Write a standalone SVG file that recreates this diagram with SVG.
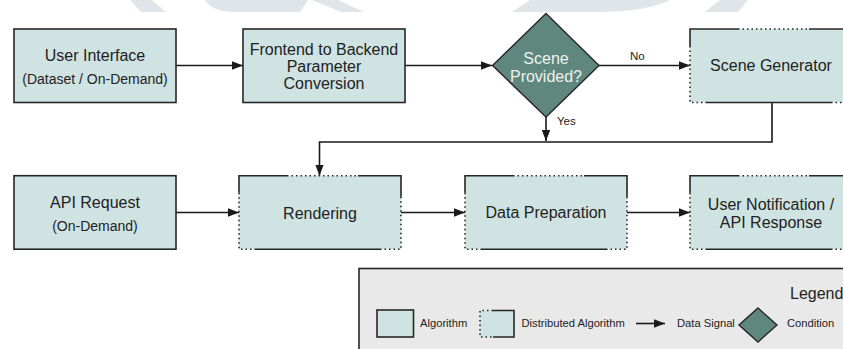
<svg xmlns="http://www.w3.org/2000/svg" xmlns:xlink="http://www.w3.org/1999/xlink" width="843" height="349" viewBox="0 0 843 349">
  <style>
    .box{fill:#cfe3e2;stroke:#262626;stroke-width:1.6}
    .fill{fill:#cfe3e2;stroke:none}
    .solid{fill:none;stroke:#262626;stroke-width:1.6}
    .dot{fill:none;stroke:#262626;stroke-width:1.6;stroke-dasharray:1.5 3}
    .cond{fill:#5f877d;stroke:#262626;stroke-width:1.4}
    .t{font-family:"Liberation Sans",Arial,sans-serif;font-size:16px;fill:#222;text-anchor:middle}
    .s{font-family:"Liberation Sans",Arial,sans-serif;font-size:14px;fill:#222;text-anchor:middle}
    .w{font-family:"Liberation Sans",Arial,sans-serif;font-size:16px;fill:#eef2f1;text-anchor:middle}
    .lbl{font-family:"Liberation Sans",Arial,sans-serif;font-size:11.5px;fill:#222}
    .leg{font-family:"Liberation Sans",Arial,sans-serif;font-size:11.2px;fill:#222}
    .edge{fill:none;stroke:#1a1a1a;stroke-width:1.6}
    .wm{fill:#dfe5e9}
  </style>
  <defs>
    <marker id="arr" markerUnits="userSpaceOnUse" markerWidth="12" markerHeight="10" refX="11" refY="5" orient="auto">
      <path d="M0,0.8 L11,5 L0,9.2 Z" fill="#1a1a1a"/>
    </marker>
    <g id="dist">
      <rect class="fill" x="0" y="0" width="162" height="73.5"/>
      <path class="solid" d="M0,17 V0 H48 M119,0 H162 V21 M16,73.5 H141"/>
      <path class="dot" d="M48,0 H119 M0,17 V73.5 H16 M162,21 V73.5 H141"/>
    </g>
  </defs>
  <rect width="843" height="349" fill="#ffffff"/>
  <g id="watermark">
    <polygon class="wm" points="130,0 152,0 166,12 141,12"/>
    <path class="wm" d="M205,0 C210,8 220,12 236,12 L300,12 L308,0 Z"/>
    <polygon class="wm" points="312,0 338,0 364,12 341,12"/>
    <path class="wm" d="M530,0 L670,0 C655,8 630,12 593,12 L512,12 Z"/>
    <polygon class="wm" points="720,0 748,0 738,12 705,12"/>
  </g>

  <g id="connectors">
    <path class="edge" d="M176,65.5 H243" marker-end="url(#arr)"/>
    <path class="edge" d="M405,65.5 H492" marker-end="url(#arr)"/>
    <path class="edge" d="M599,65.5 H690" marker-end="url(#arr)"/>
    <path class="edge" d="M546,117 V141" marker-end="url(#arr)"/>
    <path class="edge" d="M772,102.5 V142 H319.5 V175.7" marker-end="url(#arr)"/>
    <path class="edge" d="M176,212.5 H239" marker-end="url(#arr)"/>
    <path class="edge" d="M401,212.5 H465" marker-end="url(#arr)"/>
    <path class="edge" d="M627,212.5 H690" marker-end="url(#arr)"/>
    <text class="lbl" x="630" y="59.5">No</text>
    <text class="lbl" x="557" y="125" font-size="11">Yes</text>
  </g>

  <g id="user-interface">
    <rect class="box" x="14" y="29" width="162" height="73.5"/>
    <text class="t" x="95" y="60.5">User Interface</text>
    <text class="s" x="95" y="84">(Dataset / On-Demand)</text>
  </g>
  <g id="frontend-backend">
    <rect class="box" x="243" y="29" width="162" height="73.5"/>
    <text class="t" x="324" y="54.5">Frontend to Backend</text>
    <text class="t" x="324" y="72">Parameter</text>
    <text class="t" x="324" y="89">Conversion</text>
  </g>
  <g id="scene-provided">
    <polygon class="cond" points="546,13.5 599,65.5 546,117 492.5,65.5"/>
    <text class="w" x="546" y="64">Scene</text>
    <text class="w" x="546" y="81.5">Provided?</text>
  </g>
  <g id="scene-generator">
    <use xlink:href="#dist" href="#dist" x="690" y="29"/>
    <text class="t" x="771" y="71">Scene Generator</text>
  </g>
  <g id="api-request">
    <rect class="box" x="14" y="175.7" width="162" height="73.5"/>
    <text class="t" x="95" y="208">API Request</text>
    <text class="s" x="95" y="231">(On-Demand)</text>
  </g>
  <g id="rendering">
    <use xlink:href="#dist" href="#dist" x="239" y="175.7"/>
    <text class="t" x="320" y="218.5">Rendering</text>
  </g>
  <g id="data-preparation">
    <use xlink:href="#dist" href="#dist" x="465" y="175.7"/>
    <text class="t" x="546" y="218">Data Preparation</text>
  </g>
  <g id="user-notification">
    <use xlink:href="#dist" href="#dist" x="690" y="175.7"/>
    <text class="t" x="771" y="210">User Notification /</text>
    <text class="t" x="771" y="227.5">API Response</text>
  </g>

  <g id="legend">
    <rect x="359" y="268.5" width="520" height="100" fill="#e9e9e9" stroke="#262626" stroke-width="1.6"/>
    <text class="t" x="790" y="299" text-anchor="start" style="text-anchor:start">Legend</text>
    <rect class="box" x="377" y="310" width="36.5" height="27"/>
    <text class="leg" x="420" y="327">Algorithm</text>
    <rect class="fill" x="480" y="310.5" width="34" height="26.5"/>
    <path class="solid" d="M493,310.5 H514 V337 H493"/>
    <path class="dot" d="M493,310.5 H480 V337 H493"/>
    <text class="leg" x="521.5" y="327">Distributed Algorithm</text>
    <path class="edge" d="M636,323.5 H665" marker-end="url(#arr)"/>
    <text class="leg" x="677" y="327">Data Signal</text>
    <polygon class="cond" points="758,308 777,325 758,342 739,325"/>
    <text class="leg" x="787" y="327">Condition</text>
  </g>
</svg>
